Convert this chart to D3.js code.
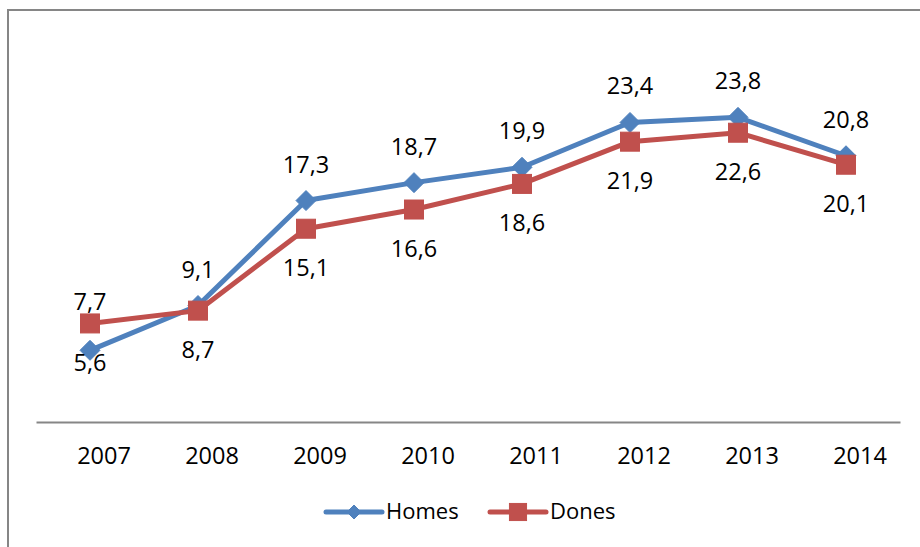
<!DOCTYPE html>
<html>
<head>
<meta charset="utf-8">
<script src="https://cdn.jsdelivr.net/npm/d3@7"></script>
<style>
  html, body { margin: 0; padding: 0; background: #ffffff; }
  svg { display: block; }
  text { font-family: "Open Sans", "Liberation Sans", sans-serif; fill: #000; }
</style>
</head>
<body>
<svg id="chart" width="920" height="547"></svg>
<script>
const years = ["2007", "2008", "2009", "2010", "2011", "2012", "2013", "2014"];
const homes = [5.6, 9.1, 17.3, 18.7, 19.9, 23.4, 23.8, 20.8];
const dones = [7.7, 8.7, 15.1, 16.6, 18.6, 21.9, 22.6, 20.1];
const homesLabelPos = ["below", "above", "above", "above", "above", "above", "above", "above"];
const donesLabelPos = ["above", "below", "below", "below", "below", "below", "below", "below"];
const seriesNames = ["Homes", "Dones"];

const svg = d3.select("#chart");
const W = 920, H = 547;
const fontSize = 23.5;

// outer frame
svg.append("rect")
  .attr("x", 8).attr("y", 10)
  .attr("width", W + 20).attr("height", H + 20)
  .attr("fill", "#fff")
  .attr("stroke", "#868686").attr("stroke-width", 2);

const x = d3.scaleBand().domain(years).range([36, 900]).padding(0);
const y = d3.scaleLinear().domain([0, 30]).range([422, 38]);
const cx = d => x(d) + x.bandwidth() / 2;

// axis
const axis = d3.axisBottom(x).tickSize(0).tickPadding(0);
const gAxis = svg.append("g").attr("transform", `translate(0,${y(0)})`).call(axis);
gAxis.select(".domain").attr("stroke", "#868686").attr("stroke-width", 2.2);
gAxis.selectAll(".tick text")
  .attr("x", 14)
  .attr("y", 42).attr("dy", 0)
  .style("font-size", fontSize + "px")
  .style("font-family", '"Open Sans", "Liberation Sans", sans-serif')
  .attr("fill", "#000");

const series = [
  { name: seriesNames[0], values: homes, pos: homesLabelPos, color: "#4F81BD", marker: "diamond", above: -28, below: 21 },
  { name: seriesNames[1], values: dones, pos: donesLabelPos, color: "#C0504D", marker: "square", above: -13, below: 47 }
];

const line = d3.line().x(d => cx(d.year)).y(d => y(d.v));

series.forEach(s => {
  const pts = years.map((yr, i) => ({ year: yr, v: s.values[i], pos: s.pos[i] }));
  svg.append("path")
    .datum(pts)
    .attr("d", line)
    .attr("fill", "none")
    .attr("stroke", s.color)
    .attr("stroke-width", 5)
    .attr("stroke-linejoin", "round");
  const g = svg.append("g");
  pts.forEach(p => {
    drawMarker(g, s.marker, cx(p.year), y(p.v), s.color, 10);
  });
  s.pts = pts;
});

// labels on top
series.forEach(s => {
  svg.append("g").selectAll("text")
    .data(s.pts)
    .join("text")
    .attr("x", d => cx(d.year))
    .attr("y", d => y(d.v) + (d.pos === "above" ? s.above : s.below))
    .attr("text-anchor", "middle")
    .style("font-size", fontSize + "px")
    .text(d => d3.format(".1f")(d.v).replace(".", ","));
});

function drawMarker(g, type, px, py, color, r) {
  if (type === "diamond") {
    g.append("path")
      .attr("d", `M${px},${py - r}L${px + r},${py}L${px},${py + r}L${px - r},${py}Z`)
      .attr("fill", color).attr("stroke", color).attr("stroke-width", 1);
  } else {
    const h = r * 0.95;
    g.append("rect")
      .attr("x", px - h).attr("y", py - h)
      .attr("width", 2 * h).attr("height", 2 * h)
      .attr("fill", color).attr("stroke", color).attr("stroke-width", 1);
  }
}

// legend
const legend = [
  { s: series[0], x0: 326, x1: 382, tx: 386 },
  { s: series[1], x0: 490, x1: 546, tx: 550 }
];
const ly = 512;
legend.forEach(l => {
  svg.append("line")
    .attr("x1", l.x0).attr("x2", l.x1).attr("y1", ly).attr("y2", ly)
    .attr("stroke", l.s.color).attr("stroke-width", 5).attr("stroke-linecap", "round");
  drawMarker(svg, l.s.marker, (l.x0 + l.x1) / 2, ly, l.s.color, l.s.marker === "diamond" ? 7 : 9);
  svg.append("text")
    .attr("x", l.tx).attr("y", ly + 7)
    .style("font-size", "22px")
    .text(l.s.name);
});
</script>
</body>
</html>
